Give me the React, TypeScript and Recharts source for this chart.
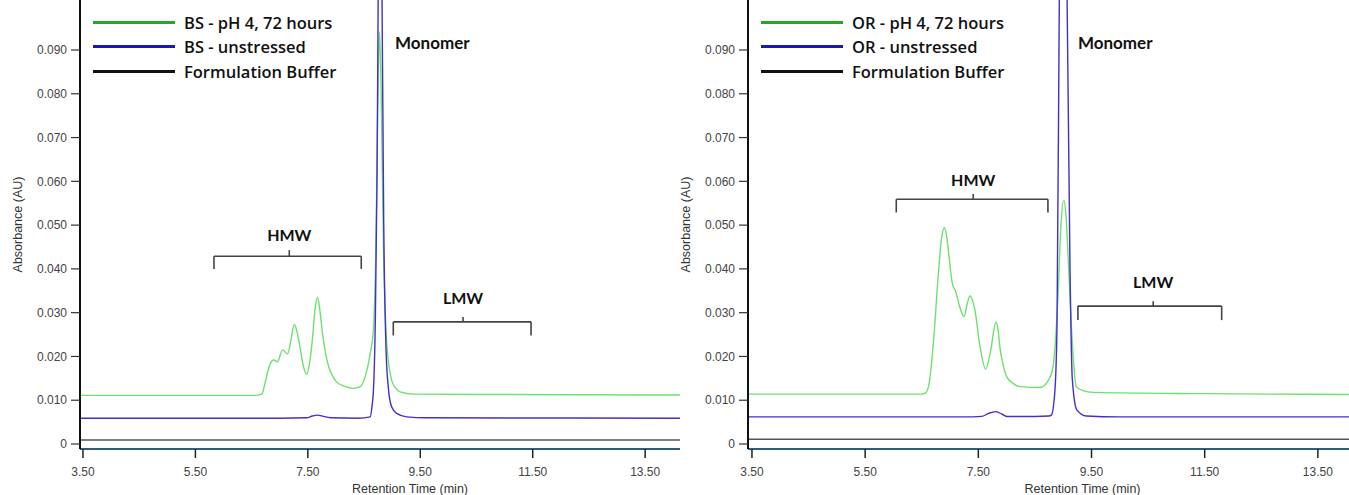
import React from "react";
import {
  LineChart,
  Line,
  XAxis,
  YAxis,
  ReferenceLine,
  ReferenceDot,
  Legend,
} from "recharts";

type Pt = [number, number];

// retention time (min), absorbance (AU)
const bsStressed: Pt[] = [
  [3.447, 0.0111], [5.0, 0.0111], [6.55, 0.0111], [6.68, 0.0114], [6.74, 0.014],
  [6.8, 0.0172], [6.85, 0.0188], [6.89, 0.0192], [6.96, 0.0188], [7.05, 0.0215],
  [7.14, 0.0206], [7.2, 0.0238], [7.26, 0.0273], [7.31, 0.0255], [7.36, 0.0222],
  [7.42, 0.0178], [7.48, 0.0159], [7.53, 0.0185], [7.58, 0.0238], [7.63, 0.031],
  [7.67, 0.0335], [7.71, 0.031], [7.76, 0.0253], [7.82, 0.0205], [7.87, 0.0177],
  [7.94, 0.0155], [8.01, 0.0142], [8.15, 0.0132], [8.31, 0.0127], [8.43, 0.0131],
  [8.52, 0.0154], [8.61, 0.0207], [8.67, 0.0268], [8.71, 0.045], [8.745, 0.078],
  [8.775, 0.0942], [8.805, 0.08], [8.845, 0.045], [8.89, 0.026], [8.93, 0.0192],
  [8.99, 0.0146], [9.06, 0.0128], [9.14, 0.0119], [9.38, 0.0114], [11.0, 0.0113],
  [14.12, 0.0112],
];

const bsUnstressed: Pt[] = [
  [3.447, 0.0059], [7.0, 0.0059], [7.48, 0.006], [7.58, 0.0064], [7.67, 0.0066],
  [7.78, 0.0063], [7.9, 0.006], [8.4, 0.0059], [8.61, 0.0062], [8.64, 0.0085],
  [8.67, 0.0131], [8.7, 0.028], [8.73, 0.06], [8.755, 0.11], [8.785, 0.16],
  [8.815, 0.11], [8.85, 0.05], [8.89, 0.022], [8.93, 0.0131], [8.99, 0.0085],
  [9.08, 0.007], [9.26, 0.0062], [9.6, 0.006], [14.12, 0.0059],
];

const bsBuffer: Pt[] = [
  [3.447, 0.0009], [6.0, 0.0009], [9.0, 0.0009], [12.0, 0.0009], [14.12, 0.0009],
];

const orStressed: Pt[] = [
  [3.43, 0.0114], [5.5, 0.0114], [6.5, 0.0114], [6.56, 0.0116], [6.62, 0.0131],
  [6.7, 0.0222], [6.79, 0.0382], [6.85, 0.047], [6.9, 0.0494], [6.94, 0.0475],
  [6.97, 0.0443], [7.04, 0.0367], [7.1, 0.0348], [7.17, 0.0314], [7.25, 0.0291],
  [7.3, 0.0318], [7.35, 0.0338], [7.4, 0.0327], [7.44, 0.0306], [7.53, 0.0222],
  [7.63, 0.0171], [7.72, 0.0215], [7.81, 0.0278], [7.85, 0.026], [7.88, 0.0222],
  [7.94, 0.018], [8.0, 0.0154], [8.12, 0.0138], [8.24, 0.0131], [8.59, 0.0129],
  [8.74, 0.0146], [8.82, 0.0177], [8.91, 0.0344], [8.96, 0.05], [9.01, 0.0557],
  [9.05, 0.052], [9.09, 0.042], [9.14, 0.028], [9.18, 0.0192], [9.23, 0.0131],
  [9.35, 0.0122], [9.53, 0.0118], [11.5, 0.0115], [14.05, 0.0113],
];

const orUnstressed: Pt[] = [
  [3.43, 0.0062], [7.4, 0.0062], [7.56, 0.0063], [7.68, 0.007], [7.81, 0.0074],
  [7.92, 0.0068], [8.0, 0.0063], [8.5, 0.0063], [8.75, 0.0064], [8.79, 0.0066],
  [8.85, 0.0116], [8.89, 0.0268], [8.93, 0.1], [8.97, 0.16], [9.0, 0.18],
  [9.03, 0.16], [9.07, 0.1], [9.12, 0.04], [9.16, 0.015], [9.24, 0.0078],
  [9.41, 0.0064], [10.0, 0.0062], [14.05, 0.0062],
];

const orBuffer: Pt[] = [
  [3.43, 0.0011], [6.0, 0.0011], [9.0, 0.0011], [12.0, 0.0011], [14.05, 0.0011],
];

const xTicks = [3.5, 5.5, 7.5, 9.5, 11.5, 13.5];
const yTicks = [0, 0.01, 0.02, 0.03, 0.04, 0.05, 0.06, 0.07, 0.08, 0.09];

// bracket: x from, x to, centre tick, bar y, end-tick y, centre-tick y, label y
const bsHmw = [5.83, 8.45, 7.17, 0.0429, 0.04, 0.0443, 0.0477];
const bsLmw = [9.02, 11.47, 10.26, 0.0279, 0.0248, 0.029, 0.0333];
const orHmw = [6.05, 8.73, 7.41, 0.0559, 0.0529, 0.0571, 0.0603];
const orLmw = [9.26, 11.8, 10.59, 0.0315, 0.0283, 0.0326, 0.037];

const bsLegend = ["BS - pH 4, 72 hours", "BS - unstressed", "Formulation Buffer"];
const orLegend = ["OR - pH 4, 72 hours", "OR - unstressed", "Formulation Buffer"];

const LINE_COLORS = ["#6ee06e", "#4030d0", "#555555"];
const LEGEND_COLORS = ["#22a822", "#1a1aa8", "#111111"];

const TICK_FONT = { fontFamily: "Liberation Sans, Arial", fontSize: 12, fill: "#444" };
const NOTE_FONT = "Lato, 'Open Sans', sans-serif";
const LEGEND_FONT = "'Open Sans', Lato, sans-serif";

const toRows = (pts: Pt[]) => pts.map(([t, v]) => ({ t, v }));

function renderBracket(b: number[], label: string, key: string) {
  const [x1, x2, xc, y, yEnd, yTick, yLabel] = b;
  const s = { stroke: "#444", strokeWidth: 1.6, ifOverflow: "visible" as const };
  return [
    <ReferenceLine key={key + "h"} segment={[{ x: x1, y }, { x: x2, y }]} {...s} />,
    <ReferenceLine key={key + "l"} segment={[{ x: x1, y }, { x: x1, y: yEnd }]} {...s} />,
    <ReferenceLine key={key + "r"} segment={[{ x: x2, y }, { x: x2, y: yEnd }]} {...s} />,
    <ReferenceLine key={key + "c"} segment={[{ x: xc, y }, { x: xc, y: yTick }]} {...s} />,
    <ReferenceDot
      key={key + "t"}
      x={xc}
      y={yLabel}
      r={0}
      fill="none"
      stroke="none"
      label={{
        value: label,
        position: "center",
        fill: "#111",
        fontSize: 16,
        fontWeight: 700,
        fontFamily: NOTE_FONT,
      }}
    />,
  ];
}

function Panel({
  left,
  width,
  xDomain,
  stressed,
  unstressed,
  buffer,
  names,
  hmw,
  lmw,
  monoX,
  labelShift,
}: {
  left: number;
  width: number;
  xDomain: [number, number];
  stressed: Pt[];
  unstressed: Pt[];
  buffer: Pt[];
  names: string[];
  hmw: number[];
  lmw: number[];
  monoX: number;
  labelShift: number;
}) {
  const series = [stressed, unstressed, buffer];
  return (
    <div style={{ position: "absolute", left, top: 0 }}>
      <LineChart width={width} height={495} margin={{ top: 0, right: 0, bottom: 0, left: 0 }}>
        <XAxis
          type="number"
          dataKey="t"
          domain={xDomain}
          allowDataOverflow
          ticks={xTicks}
          tickFormatter={(v: number) => v.toFixed(2)}
          height={46}
          tickSize={9}
          tickMargin={9}
          tick={TICK_FONT}
          tickLine={{ stroke: "#222", strokeWidth: 1.5 }}
          axisLine={{ stroke: "#2d5f7c", strokeWidth: 2 }}
          label={{
            value: "Retention Time (min)",
            position: "insideBottom",
            offset: 2,
            dx: labelShift,
            style: { ...TICK_FONT, fill: "#333", fontSize: 12.5 },
          }}
        />
        <YAxis
          type="number"
          domain={[-0.00114, 0.10142]}
          allowDataOverflow
          ticks={yTicks}
          tickFormatter={(v: number) => (v === 0 ? "0" : v.toFixed(3))}
          width={80}
          tickSize={9}
          tickMargin={4}
          tick={TICK_FONT}
          tickLine={{ stroke: "#333", strokeWidth: 1.2 }}
          axisLine={{ stroke: "#111", strokeWidth: 2 }}
          label={{
            value: "Absorbance (AU)",
            angle: -90,
            position: "insideLeft",
            offset: 18,
            style: { ...TICK_FONT, fill: "#333", fontSize: 12.5, textAnchor: "middle" },
          }}
        />
        {series.map((pts, i) => (
          <Line
            key={names[i]}
            data={toRows(pts)}
            dataKey="v"
            name={names[i]}
            type="monotone"
            stroke={LINE_COLORS[i]}
            strokeWidth={1.4}
            dot={false}
            isAnimationActive={false}
          />
        ))}
        {renderBracket(hmw, "HMW", "hmw")}
        {renderBracket(lmw, "LMW", "lmw")}
        <ReferenceDot
          x={monoX}
          y={0.0916}
          r={0}
          fill="none"
          stroke="none"
          label={{
            value: "Monomer",
            position: "right",
            offset: 0,
            fill: "#111",
            fontSize: 17,
            fontWeight: 700,
            fontFamily: NOTE_FONT,
          }}
        />
        <Legend
          layout="vertical"
          align="center"
          verticalAlign="middle"
          wrapperStyle={{ position: "absolute", top: 10, left: 93, width: 320, height: 75 }}
          content={() => (
            <div
              style={{ fontFamily: LEGEND_FONT, fontWeight: 600, fontSize: 16.5, color: "#111" }}
            >
              {names.map((n, i) => (
                <div key={n} style={{ display: "flex", alignItems: "center", height: 24.5 }}>
                  <span
                    style={{
                      display: "inline-block",
                      width: 82,
                      height: 3,
                      background: LEGEND_COLORS[i],
                      marginRight: 9,
                    }}
                  />
                  <span>{n}</span>
                </div>
              ))}
            </div>
          )}
        />
      </LineChart>
    </div>
  );
}

export default function App() {
  return (
    <div
      style={{
        position: "absolute",
        left: 0,
        top: 0,
        width: 1349,
        height: 495,
        background: "#fff",
        overflow: "hidden",
      }}
    >
      <Panel
        left={0}
        width={680}
        xDomain={[3.447, 14.12]}
        stressed={bsStressed}
        unstressed={bsUnstressed}
        buffer={bsBuffer}
        names={bsLegend}
        hmw={bsHmw}
        lmw={bsLmw}
        monoX={9.05}
        labelShift={30}
      />
      <Panel
        left={668}
        width={681}
        xDomain={[3.43, 14.05]}
        stressed={orStressed}
        unstressed={orUnstressed}
        buffer={orBuffer}
        names={orLegend}
        hmw={orHmw}
        lmw={orLmw}
        monoX={9.26}
        labelShift={34}
      />
    </div>
  );
}
